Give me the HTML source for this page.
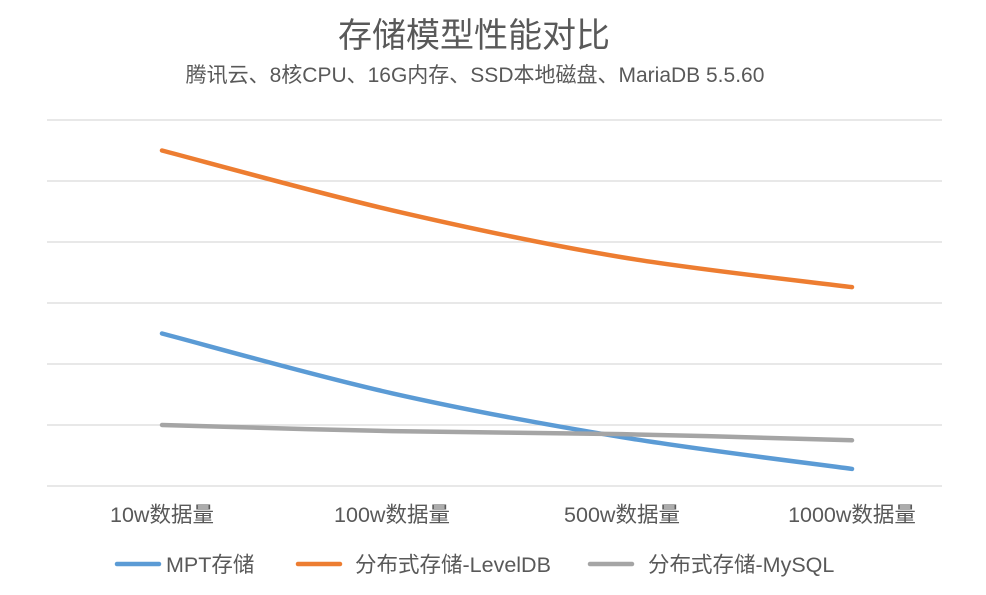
<!DOCTYPE html>
<html><head><meta charset="utf-8"><style>
body{margin:0;background:#fff;}
svg text{font-family:"Liberation Sans","Noto Sans CJK SC",sans-serif;fill:#595959;}
</style></head><body>
<svg id="chart" width="986" height="590" viewBox="0 0 986 590">
<text x="474" y="47" font-size="34" text-anchor="middle">存储模型性能对比</text>
<text x="475" y="82" font-size="21" text-anchor="middle">腾讯云、8核CPU、16G内存、SSD本地磁盘、MariaDB 5.5.60</text>
<g id="grid"></g><g id="xlabels"></g><g id="series"></g><g id="legend"></g>
</svg>
<script>
const categories=["10w数据量","100w数据量","500w数据量","1000w数据量"];
const mptValues=[2.5,1.52,0.8,0.28];
const levelValues=[5.5,4.52,3.75,3.26];
const mysqlValues=[1.0,0.9,0.85,0.75];
const gridTicks=[0,1,2,3,4,5,6];
const seriesNames=["MPT存储","分布式存储-LevelDB","分布式存储-MySQL"];
const NS="http://www.w3.org/2000/svg";
const x0=47,x1=942,yBase=486,unit=61,step=230,first=162;
const xs=i=>first+i*step, ys=v=>yBase-v*unit;
function mk(t,a,p){const e=document.createElementNS(NS,t);for(const k in a)e.setAttribute(k,a[k]);p.appendChild(e);return e;}
const g=document.getElementById('grid');
gridTicks.forEach(t=>{const l=mk('line',{x1:x0,x2:x1,y1:ys(t),y2:ys(t),stroke:'#d9d9d9','stroke-width':1.3},g);

});
const xl=document.getElementById('xlabels');
categories.forEach((c,i)=>{const t=mk('text',{x:xs(i),y:522,'font-size':21.5,'text-anchor':'middle'},xl);t.textContent=c;

});
const colors=["#5b9bd5","#ed7d31","#a5a5a5"];
const sg=document.getElementById('series');
[mptValues,levelValues,mysqlValues].forEach((vals,si)=>{
 const pts=vals.map((v,i)=>[xs(i),ys(v)]);
 let d='M'+pts[0];
 for(let i=0;i<pts.length-1;i++){const p0=pts[i-1]||pts[i],p1=pts[i],p2=pts[i+1],p3=pts[i+2]||p2;
  const c1=[p1[0]+(p2[0]-p0[0])/6,p1[1]+(p2[1]-p0[1])/6],c2=[p2[0]-(p3[0]-p1[0])/6,p2[1]-(p3[1]-p1[1])/6];
  d+=' C'+c1+' '+c2+' '+p2;}
 const p=mk('path',{d:d,fill:'none',stroke:colors[si],'stroke-width':4.5,'stroke-linecap':'round'},sg);
 
 
});
const lg=document.getElementById('legend');
const lx=[117,298,590];
const tx=[166,355,648];
seriesNames.forEach((n,i)=>{
 const l=mk('line',{x1:lx[i],x2:lx[i]+42,y1:564,y2:564,stroke:colors[i],'stroke-width':4.5,'stroke-linecap':'round'},lg);
 
 
 const t=mk('text',{x:tx[i],y:572,'font-size':21.5},lg);t.textContent=n;
 
 
});
</script>
</body></html>
